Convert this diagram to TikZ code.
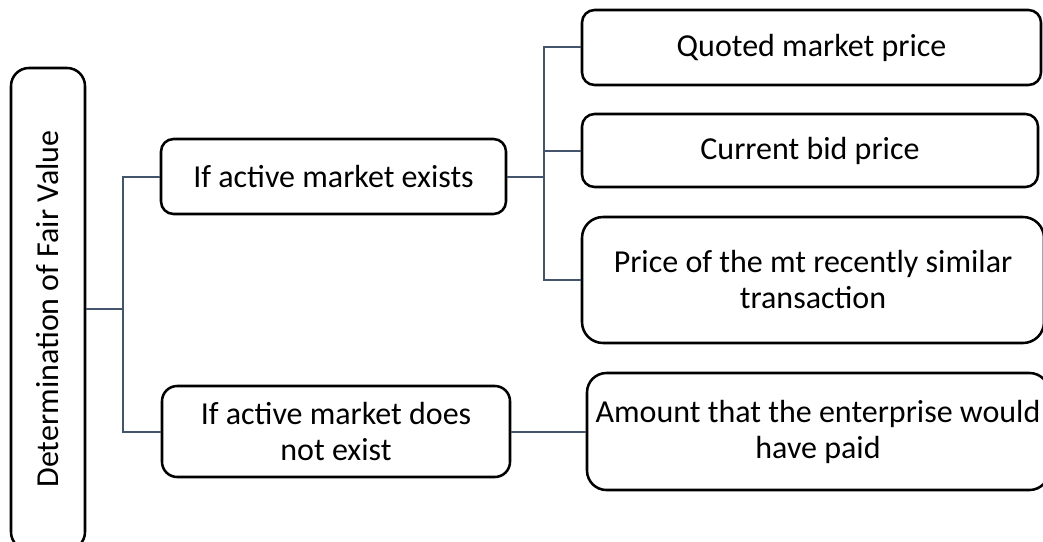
\documentclass[tikz,border=0pt]{standalone}
\usepackage{fontspec}
\setmainfont{Carlito}
\definecolor{linkc}{HTML}{44546A}
\begin{document}
\begin{tikzpicture}[x=0.75pt,y=-0.75pt,
  box/.style={draw=black, line width=1.9pt, fill=white, inner sep=0pt,
    align=center, font=\fontsize{24}{27}\selectfont, rounded corners=9.4pt},
  link/.style={draw=linkc, line width=1.5pt}]
\useasboundingbox (0,0) rectangle (1043,542);
\clip (0,0) rectangle (1043,542);

% connectors first, boxes on top
\coordinate (t1) at (123,0);
\coordinate (t2) at (544,0);

% root of the tree
\node[box, rounded corners=13.5pt, minimum width=55.5pt, minimum height=361.5pt]
  (root) at (48,309) {\rotatebox{90}{Determination of Fair Value}};

% first level
\node[box, minimum width=258.75pt, minimum height=56.25pt]
  (A) at (333.5,176.5) {If active market exists};
\node[box, rounded corners=11.4pt, minimum width=261pt, minimum height=68.25pt]
  (B) at (336,431.5) {If active market does\\not exist};

% second level
\node[box, minimum width=344.25pt, minimum height=56.25pt]
  (C1) at (811.5,47.5) {Quoted market price};
\node[box, minimum width=342pt, minimum height=54.75pt]
  (C2) at (810,150.5) {Current bid price};
\node[box, rounded corners=15.75pt, minimum width=346.5pt, minimum height=94.5pt]
  (C3) at (813,280) {Price of the mt recently similar\\transaction};
\node[box, rounded corners=14.6pt, minimum width=346.5pt, minimum height=87.75pt]
  (E) at (818,431.5) {Amount that the enterprise would\\have paid};

% tree links
\draw[link] (root.east) -- (t1 |- root.east);
\draw[link] (A.west) -| (t1 |- B.west) -- (B.west);
\draw[link] (A.east) -- (t2 |- A.east);
\draw[link] (C1.west) -| (t2 |- C3.west) -- (C3.west);
\draw[link] (C2.west) -- (t2 |- C2.west);
\draw[link] (B.east) -- (E.west);
\end{tikzpicture}
\end{document}
